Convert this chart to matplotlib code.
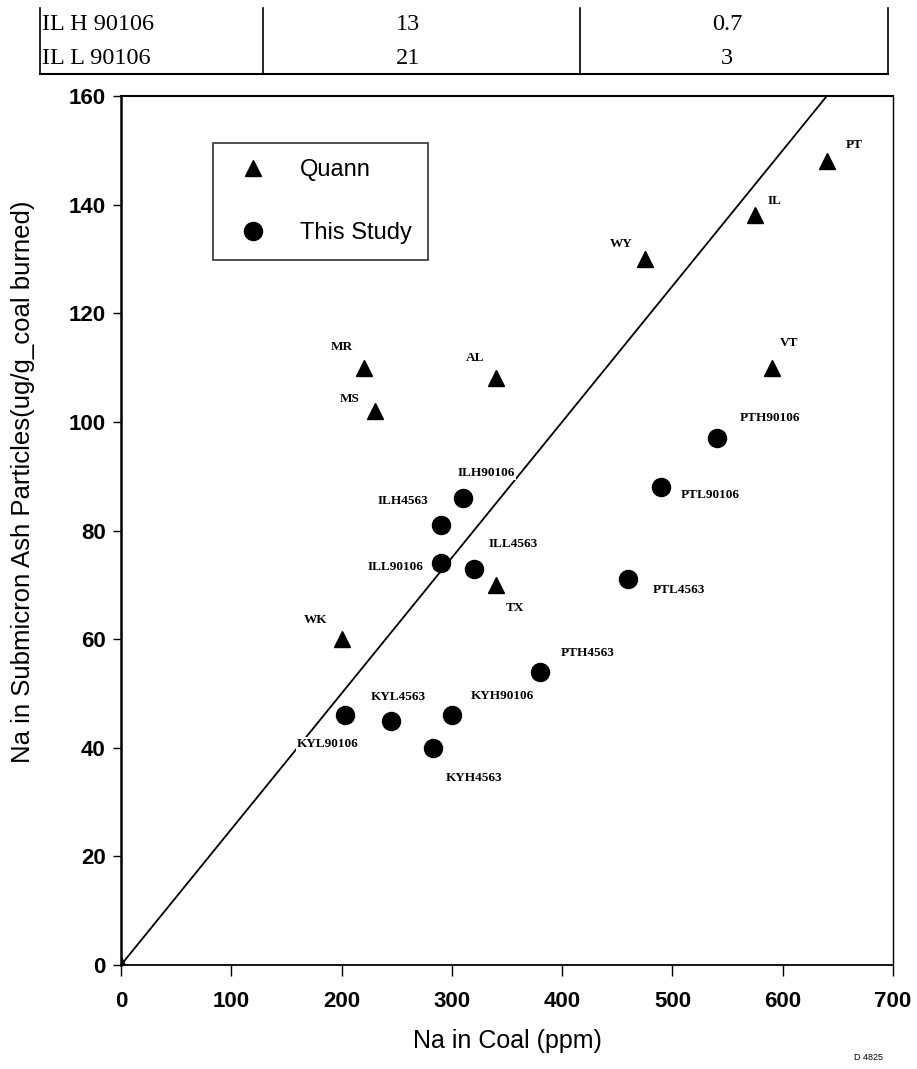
import matplotlib
matplotlib.use("Agg")
import matplotlib.pyplot as plt
from matplotlib.lines import Line2D

# table fragment at the top of the page
table_rows = ["IL H 90106", "IL L 90106"]
table_col2 = ["13", "21"]
table_col3 = ["0.7", "3"]

# Quann data
quann_names = ["", "MR", "MS", "AL", "TX", "WK", "WY", "IL", "PT", "VT"]
quann_x = [0, 220, 230, 340, 340, 200, 475, 575, 640, 590]
quann_y = [0, 110, 102, 108, 70, 60, 130, 138, 148, 110]
quann_off = [(0, 0), (-22, 21), (-25, 12), (-21, 20), (19, -23), (-26, 19),
             (-24, 15), (19, 14), (27, 16), (17, 25)]

# This study data
study_names = ["ILH90106", "ILH4563", "ILL90106", "ILL4563", "PTL4563",
               "PTL90106", "PTH90106", "PTH4563", "KYL90106", "KYL4563",
               "KYH90106", "KYH4563"]
study_x = [310, 290, 290, 320, 460, 490, 540, 380, 203, 245, 300, 283]
study_y = [86, 81, 74, 73, 71, 88, 97, 54, 46, 45, 46, 40]
study_off = [(23, 25), (-38, 24), (-45, -4), (39, 25), (51, -11), (49, -8),
             (53, 20), (48, 19), (-17, -29), (7, 24), (51, 19), (41, -30)]

# 1:4 reference line
line_x = [0, 700]
slope = 0.25

fig = plt.figure(figsize=(9.17, 10.69), dpi=100)

# ---- table strip ----
tab = fig.add_axes([0, 1 - 80 / 1069, 1, 80 / 1069])
tab.set_xlim(0, 917)
tab.set_ylim(80, 0)
tab.axis("off")
for xv in [40, 263, 580, 888]:
    tab.plot([xv, xv], [8, 74], color="black", lw=1.2)
tab.plot([40, 888], [74, 74], color="black", lw=1.5)
for i in range(len(table_rows)):
    yy = 25 + i * 33
    tab.text(42, yy, table_rows[i], family="Liberation Serif", fontsize=17.5, va="center", ha="left")
    tab.text(408, yy, table_col2[i], family="Liberation Serif", fontsize=17.5, va="center", ha="center")
    tab.text(727, yy, table_col3[i], family="Liberation Serif", fontsize=17.5, va="center", ha="center")

# ---- main plot ----
ax = fig.add_axes([121 / 917, 1 - 965 / 1069, 772 / 917, 869 / 1069])
ax.set_xlim(0, 700)
ax.set_ylim(0, 160)

ax.plot(line_x, [v * slope for v in line_x], color="black", lw=1.3, zorder=1)

ax.plot(quann_x, quann_y, "^", color="black", ms=12, ls="none", zorder=3)
ax.plot(study_x, study_y, "o", color="black", ms=13, ls="none", zorder=3)

for i, name in enumerate(quann_names):
    if name:
        ax.annotate(name, (quann_x[i], quann_y[i]), xytext=quann_off[i],
                    textcoords="offset pixels", ha="center", va="center",
                    family="Liberation Serif", fontweight="bold", fontsize=9.5,
                    bbox=dict(boxstyle="square,pad=0.1", fc="white", ec="none"), zorder=2)
for i, name in enumerate(study_names):
    ax.annotate(name, (study_x[i], study_y[i]), xytext=study_off[i],
                textcoords="offset pixels", ha="center", va="center",
                family="Liberation Serif", fontweight="bold", fontsize=9.5,
                bbox=dict(boxstyle="square,pad=0.1", fc="white", ec="none"), zorder=2)

ax.set_xticks(range(0, 701, 100))
ax.set_yticks(range(0, 161, 20))
ax.tick_params(direction="out", length=6, width=1, labelsize=16, pad=5)
ax.tick_params(axis="x", length=8, pad=11)
for lab in ax.get_xticklabels() + ax.get_yticklabels():
    lab.set_family("Liberation Sans")
    lab.set_fontweight("bold")
ax.spines["left"].set_linewidth(1.8)
ax.spines["top"].set_linewidth(1.5)
ax.spines["bottom"].set_linewidth(1.3)
ax.spines["right"].set_linewidth(1.0)

ax.set_xlabel("Na in Coal (ppm)", family="Liberation Sans", fontsize=18)
ax.xaxis.set_label_coords(0.5, -0.074)
ax.set_ylabel("Na in Submicron Ash Particles(ug/g_coal burned)", family="Liberation Sans",
              fontsize=18.5)
ax.yaxis.set_label_coords(-0.112, 0.556)

handles = [Line2D([], [], marker="^", color="black", ls="none", ms=12),
           Line2D([], [], marker="o", color="black", ls="none", ms=13)]
leg = ax.legend(handles, ["Quann", "This Study"], loc="upper left",
                bbox_to_anchor=(0.119, 0.946), frameon=True, fancybox=False,
                edgecolor="black", prop={"family": "Liberation Sans", "size": 17},
                labelspacing=1.75, borderpad=0.68, handletextpad=1.0,
                handlelength=2.0, borderaxespad=0)
leg.get_frame().set_linewidth(1.2)

fig.text(868 / 917, 1 - 1057 / 1069, "D 4825", fontsize=6.5, family="Liberation Sans",
         ha="center", va="center")

fig.savefig("out.png", dpi=100)
